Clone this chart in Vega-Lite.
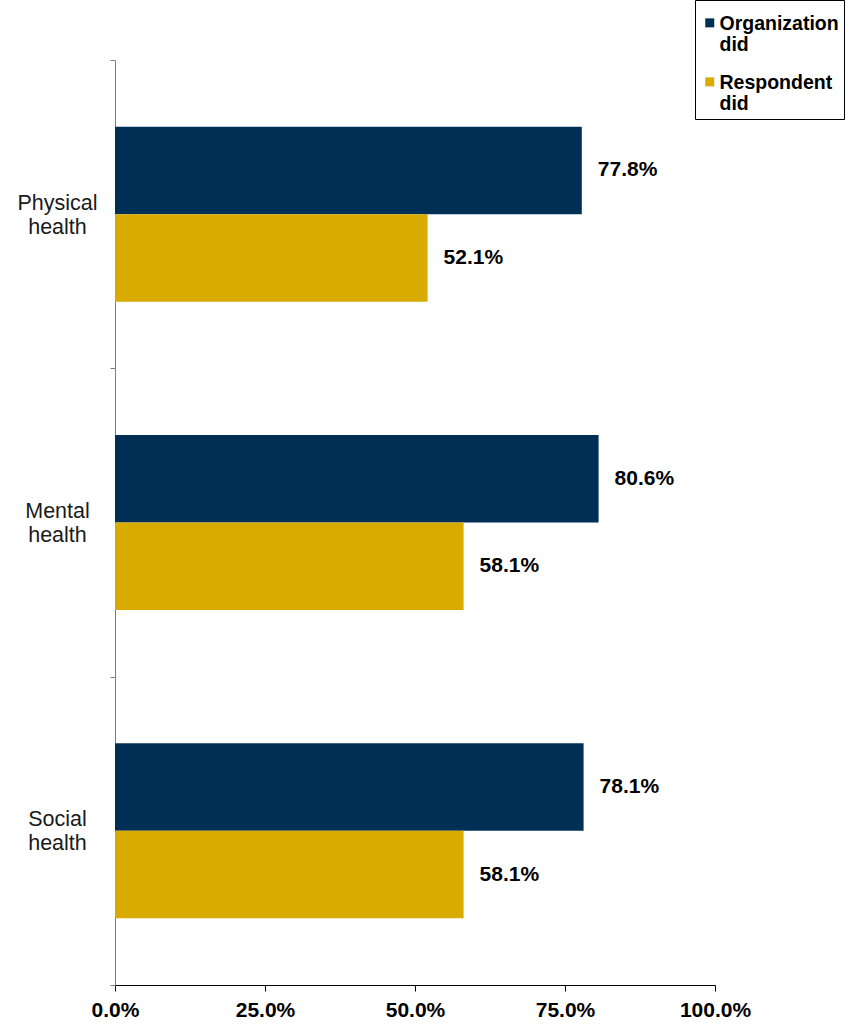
{
  "$schema": "https://vega.github.io/schema/vega-lite/v6.json",
  "autosize": "none",
  "width": 600,
  "height": 925,
  "padding": {"left": 115, "top": 60, "right": 140, "bottom": 39},
  "background": "white",
  "config": {"font": "Liberation Sans", "view": {"stroke": null}},
  "data": {
    "values": [
      {"category": "Physical health", "series": "Organization did", "value": 0.778},
      {"category": "Physical health", "series": "Respondent did", "value": 0.521},
      {"category": "Mental health", "series": "Organization did", "value": 0.806},
      {"category": "Mental health", "series": "Respondent did", "value": 0.581},
      {"category": "Social health", "series": "Organization did", "value": 0.781},
      {"category": "Social health", "series": "Respondent did", "value": 0.581}
    ]
  },
  "encoding": {
    "y": {
      "field": "category",
      "type": "nominal",
      "sort": ["Physical health", "Mental health", "Social health"],
      "scale": {"paddingInner": 0, "paddingOuter": 0},
      "axis": {
        "title": null,
        "tickBand": "extent",
        "domainColor": "#7f7f7f",
        "tickColor": "#7f7f7f",
        "tickSize": 5,
        "labelAlign": "center",
        "labelPadding": 53,
        "labelOffset": -11,
        "labelFontSize": 21.5,
        "labelColor": "#1a1a1a",
        "labelLineHeight": 24,
        "labelExpr": "split(datum.label, ' ')"
      }
    },
    "yOffset": {
      "field": "series",
      "type": "nominal",
      "sort": ["Organization did", "Respondent did"],
      "scale": {"paddingInner": 0, "paddingOuter": 0.762}
    },
    "x": {
      "field": "value",
      "type": "quantitative",
      "scale": {"domain": [0, 1]},
      "axis": {
        "title": null,
        "values": [0, 0.25, 0.5, 0.75, 1],
        "format": ".1%",
        "grid": false,
        "labelFlush": false,
        "domainColor": "#000000",
        "tickColor": "#000000",
        "tickSize": 6,
        "labelFontSize": 21,
        "labelFontWeight": "bold",
        "labelColor": "#000000",
        "labelPadding": 8
      }
    }
  },
  "layer": [
    {
      "mark": {"type": "bar"},
      "encoding": {
        "color": {
          "field": "series",
          "type": "nominal",
          "scale": {"domain": ["Organization did", "Respondent did"], "range": ["#002F56", "#D9AA00"]},
          "legend": {
            "title": null,
            "orient": "none",
            "legendX": 580,
            "legendY": -60,
            "symbolType": "M-1,0.8H1V2.8H-1Z",
            "symbolSize": 81,
            "symbolStrokeWidth": 0,
            "symbolOffset": 0,
            "labelFontSize": 19.5,
            "labelFontWeight": "bold",
            "labelColor": "#000000",
            "labelLineHeight": 24,
            "labelBaseline": "top",
            "labelOffset": 0,
            "labelExpr": "split(datum.label, ' ')",
            "rowPadding": 9,
            "strokeColor": "#000000",
            "padding": 5,
            "fillColor": "white"
          }
        }
      }
    },
    {
      "mark": {"type": "text", "align": "left", "baseline": "middle", "dx": 16, "fontSize": 21, "fontWeight": "bold", "color": "#000000"},
      "encoding": {
        "text": {"field": "value", "type": "quantitative", "format": ".1%"}
      }
    }
  ]
}
